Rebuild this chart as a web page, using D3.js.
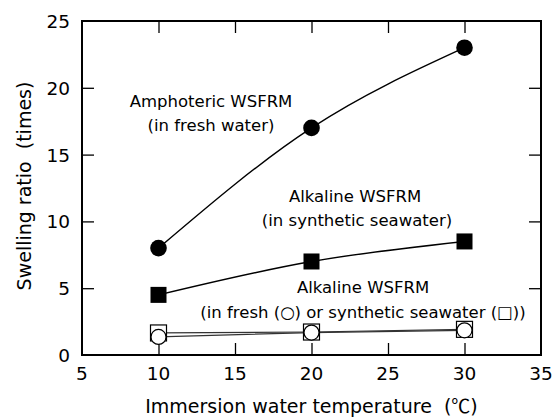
<!DOCTYPE html>
<html>
<head>
<meta charset="utf-8">
<script src="https://cdn.jsdelivr.net/npm/d3@7"></script>
<style>
  body { margin: 0; background: #fff; }
  text { font-family: "DejaVu Sans", "Noto Sans CJK JP", sans-serif; fill: #000; white-space: pre; }
</style>
</head>
<body>
<svg id="canvas"></svg>
<script>
var w = 560;
var h = 418;
var temps = [10, 20, 30];
var amphoFresh = [8.0, 17.0, 23.0];
var alkSea = [4.5, 7.0, 8.5];
var alkFreshOpen = [1.35, 1.68, 1.85];
var alkSeaOpen = [1.65, 1.72, 1.92];
var xTicks = [5, 10, 15, 20, 25, 30, 35];
var yTicks = [0, 5, 10, 15, 20, 25];

var margin = {left: 82, top: 21, right: 19, bottom: 63};
var x = d3.scaleLinear().domain([5, 35]).range([margin.left, w - margin.right]);
var y = d3.scaleLinear().domain([0, 25]).range([h - margin.bottom, margin.top]);

var svg = d3.select("#canvas")
  .attr("width", w)
  .attr("height", h)
  .attr("viewBox", [0, 0, w, h]);

// inward ticks on every side
var tk = 12;
var innerX = xTicks.slice(1, -1);
var innerY = yTicks.slice(1, -1);
svg.append("g").attr("transform", "translate(0," + y(0) + ")")
  .call(d3.axisBottom(x).tickValues(innerX).tickSize(-tk).tickFormat(""))
  .call(g => g.select(".domain").remove());
svg.append("g").attr("transform", "translate(0," + y(25) + ")")
  .call(d3.axisTop(x).tickValues(innerX).tickSize(-tk).tickFormat(""))
  .call(g => g.select(".domain").remove());
svg.append("g").attr("transform", "translate(" + x(5) + ",0)")
  .call(d3.axisLeft(y).tickValues(innerY).tickSize(-tk).tickFormat(""))
  .call(g => g.select(".domain").remove());
svg.append("g").attr("transform", "translate(" + x(35) + ",0)")
  .call(d3.axisRight(y).tickValues(innerY).tickSize(-tk).tickFormat(""))
  .call(g => g.select(".domain").remove());
svg.selectAll(".tick line").attr("stroke", "#000").attr("stroke-width", 1.3);

// tick labels
svg.selectAll(".xlab").data(xTicks).enter().append("text")
  .attr("x", d => x(d)).attr("y", y(0) + 25)
  .attr("text-anchor", "middle").style("font-size", "18.5px").text(d => d);
svg.selectAll(".ylab").data(yTicks).enter().append("text")
  .attr("x", x(5) - 12).attr("y", d => y(d) + 7)
  .attr("text-anchor", "end").style("font-size", "18.5px").text(d => d);

// frame
svg.append("rect")
  .attr("x", x(5)).attr("y", y(25))
  .attr("width", x(35) - x(5)).attr("height", y(0) - y(25))
  .attr("fill", "none").attr("stroke", "#000").attr("stroke-width", 2);

// axis titles
var xt = svg.append("text")
  .attr("x", (x(5) + x(35)) / 2).attr("y", 413)
  .attr("text-anchor", "middle").style("font-size", "19px");
xt.append("tspan").text("Immersion water temperature  (");
xt.append("tspan").style("font-family", "'Noto Sans CJK JP'").text("℃");
xt.append("tspan").text(")");
svg.append("text")
  .attr("transform", "translate(31," + 186 + ") rotate(-90)")
  .attr("text-anchor", "middle").style("font-size", "19px")
  .text("Swelling ratio  (times)");

// lines
var line = d3.line().x((d, i) => x(temps[i])).y(d => y(d)).curve(d3.curveMonotoneX);
[amphoFresh, alkSea].forEach(function(s){
  svg.append("path").datum(s).attr("d", line)
    .attr("fill", "none").attr("stroke", "#000").attr("stroke-width", 1.4);
});
[alkSeaOpen, alkFreshOpen].forEach(function(s){
  svg.append("path").datum(s).attr("d", line)
    .attr("fill", "none").attr("stroke", "#333").attr("stroke-width", 1.2);
});

// markers
svg.selectAll(".sqOpen").data(alkSeaOpen).enter().append("rect")
  .attr("x", (d, i) => x(temps[i]) - 8).attr("y", d => y(d) - 8)
  .attr("width", 16).attr("height", 16)
  .attr("fill", "#fff").attr("stroke", "#000").attr("stroke-width", 1.2);
svg.selectAll(".ciOpen").data(alkFreshOpen).enter().append("circle")
  .attr("cx", (d, i) => x(temps[i])).attr("cy", d => y(d)).attr("r", 7.5)
  .attr("fill", "#fff").attr("stroke", "#000").attr("stroke-width", 1.2);
svg.selectAll(".sqFill").data(alkSea).enter().append("rect")
  .attr("x", (d, i) => x(temps[i]) - 8).attr("y", d => y(d) - 8)
  .attr("width", 16).attr("height", 16).attr("fill", "#000");
svg.selectAll(".ciFill").data(amphoFresh).enter().append("circle")
  .attr("cx", (d, i) => x(temps[i])).attr("cy", d => y(d)).attr("r", 8.3)
  .attr("fill", "#000");

// annotations
var notes = [
  ["Amphoteric WSFRM", 211, 107],
  ["(in fresh water)", 211, 131],
  ["Alkaline WSFRM", 355, 202],
  ["(in synthetic seawater)", 357, 226],
  ["Alkaline WSFRM", 363, 293],
  ["(in fresh (○) or synthetic seawater (□))", 363, 318]
];
svg.selectAll(".note").data(notes).enter().append("text")
  .attr("x", d => d[1]).attr("y", d => d[2])
  .attr("text-anchor", "middle").style("font-size", "16.5px")
  .text(d => d[0]);
</script>
</body>
</html>
